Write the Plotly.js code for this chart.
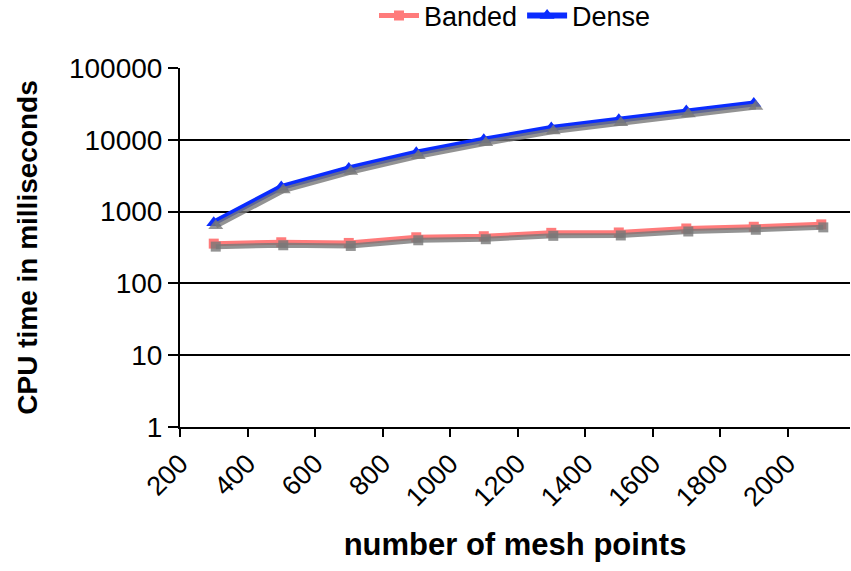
<!DOCTYPE html>
<html>
<head>
<meta charset="utf-8">
<script src="https://cdn.plot.ly/plotly-3.0.1.min.js"></script>
<style>html,body{margin:0;padding:0;background:#fff;}#chart{width:851px;height:571px;}</style>
</head>
<body>
<div id="chart"></div>
<script>
// Data
const bandedX = [300, 500, 700, 900, 1100, 1300, 1500, 1700, 1900, 2100];
const bandedY = [358, 374, 366, 439, 454, 506, 512, 582, 615, 664];
const denseX = [300, 500, 700, 900, 1100, 1300, 1500, 1700, 1900];
const denseY = [700, 2200, 3980, 6600, 10000, 14600, 19000, 25100, 32000];
const xTicks = [200, 400, 600, 800, 1000, 1200, 1400, 1600, 1800, 2000];
const yTicks = [1, 10, 100, 1000, 10000, 100000];

const font = "Liberation Sans, Arial, Helvetica, sans-serif";
const xRange = [200, 2185];
const yRange = [0, 5];
// shadow offset (pixels converted to axis units)
const pxPerX = 670 / (xRange[1] - xRange[0]);
const pxPerDec = 359 / (yRange[1] - yRange[0]);
const sdx = 2, sdy = 3;

const shadow = 'rgba(120,120,120,0.8)';
const pink = '#FF7B7B';
const blue = '#0A2CFF';
const traces = [
  {x: bandedX, y: bandedY, xaxis: 'x2', yaxis: 'y2', mode: 'lines+markers', showlegend: false, hoverinfo: 'skip',
   line: {color: shadow, width: 5}, marker: {symbol: 'square', size: 10, color: shadow}},
  {x: denseX, y: denseY, xaxis: 'x2', yaxis: 'y2', mode: 'lines+markers', showlegend: false, hoverinfo: 'skip',
   line: {color: shadow, width: 6}, marker: {symbol: 'triangle-up', size: 13, color: shadow}},
  {x: bandedX, y: bandedY, name: 'Banded', mode: 'lines+markers',
   line: {color: pink, width: 5}, marker: {symbol: 'square', size: 10, color: pink}},
  {x: denseX, y: denseY, name: 'Dense', mode: 'lines+markers',
   line: {color: blue, width: 6}, marker: {symbol: 'triangle-up', size: 13, color: blue}}
];

const layout = {
  width: 851, height: 571,
  margin: {l: 180, r: 1, t: 68, b: 144, autoexpand: false},
  paper_bgcolor: '#fff', plot_bgcolor: '#fff',
  font: {family: font, size: 28, color: '#000'},
  showlegend: true,
  legend: {orientation: 'h', x: 0.5, xanchor: 'center', xref: 'paper', y: 1.145, yanchor: 'middle', yref: 'paper',
           font: {family: font, size: 27}, traceorder: 'normal', itemwidth: 40, tracegroupgap: 0,
           bgcolor: 'rgba(0,0,0,0)'},
  xaxis: {
    range: xRange, tickmode: 'array', tickvals: xTicks, ticktext: xTicks.map(String),
    tickangle: -45, ticks: 'outside', ticklen: 8, tickwidth: 2, tickcolor: '#000',
    showline: true, linecolor: '#000', linewidth: 2, showgrid: false, zeroline: false,
    tickfont: {family: font, size: 27}, automargin: false,
    title: {text: '<b>number of mesh points</b>', font: {family: font, size: 31}, standoff: 22}
  },
  yaxis: {
    type: 'log', range: yRange, tickmode: 'array', tickvals: yTicks, ticktext: yTicks.map(String),
    ticks: 'outside', ticklen: 10, tickwidth: 2, tickcolor: '#000',
    showline: true, linecolor: '#000', linewidth: 2, showgrid: true, gridcolor: '#000', gridwidth: 2,
    zeroline: false, tickfont: {family: font, size: 28}, automargin: false,
    title: {text: '<b>CPU time in milliseconds</b>', font: {family: font, size: 28}, standoff: 23}
  },
  xaxis2: {overlaying: 'x', range: [xRange[0] - sdx / pxPerX, xRange[1] - sdx / pxPerX], visible: false},
  yaxis2: {overlaying: 'y', type: 'log', range: [yRange[0] + sdy / pxPerDec, yRange[1] + sdy / pxPerDec], visible: false}
};

Plotly.newPlot('chart', traces, layout, {displayModeBar: false, staticPlot: true});
</script>
</body>
</html>
